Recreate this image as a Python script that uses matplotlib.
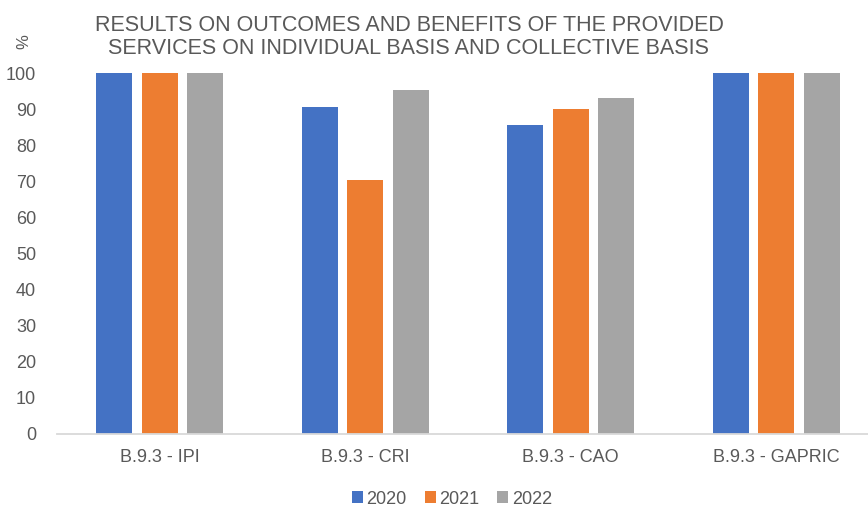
import numpy as np
import matplotlib
matplotlib.use("Agg")
from matplotlib import pyplot as plt

# data
categories = ["B.9.3 - IPI", "B.9.3 - CRI", "B.9.3 - CAO", "B.9.3 - GAPRIC"]
years = ["2020", "2021", "2022"]
vals_2020 = [100, 90.6, 85.5, 100]
vals_2021 = [100, 70.4, 90.0, 100]
vals_2022 = [100, 95.2, 93.0, 100]

colors = ["#4472C4", "#ED7D31", "#A5A5A5"]
txt_col = "#595959"

plt.rcParams['font.family'] = ['Liberation Sans', 'DejaVu Sans']

fig = plt.figure(figsize=(8.68, 5.09), dpi=100)
ax = fig.add_axes([57/868, 75/509, 822/868, 361/509])

x = np.arange(len(categories))
w = 0.175
step = 0.221
for i, (vals, yr) in enumerate(zip([vals_2020, vals_2021, vals_2022], years)):
    ax.bar(x + (i - 1)*step, vals, width=w, color=colors[i], label=yr)

ax.set_xlim(-0.5, len(categories) - 0.5)
ax.set_ylim(0, 100)
ax.set_yticks(np.arange(0, 101, 10))
ax.set_xticks(x)
ax.set_xticklabels(categories)
ax.tick_params(axis='both', length=0, labelsize=13, colors=txt_col)
ax.tick_params(axis='x', pad=11)
ax.tick_params(axis='y', pad=15)

for s in ['top', 'right', 'left']:
    ax.spines[s].set_visible(False)
ax.spines['bottom'].set_color('#D9D9D9')
ax.spines['bottom'].set_linewidth(1.3)

fig.text(409/868, 1 - 37/509,
         "RESULTS ON OUTCOMES AND BENEFITS OF THE PROVIDED\nSERVICES ON INDIVIDUAL BASIS AND COLLECTIVE BASIS",
         ha='center', va='center', fontsize=15.5, color=txt_col, linespacing=1.1)
fig.text(24/868, 1 - 42/509, "%", rotation=90, ha='center', va='center',
         fontsize=12, color=txt_col)

fig.legend(loc='center', bbox_to_anchor=(452/868, 1 - 499/509), ncol=3,
           frameon=False, fontsize=13, labelcolor=txt_col,
           handlelength=0.6, handleheight=0.6, handletextpad=0.2,
           columnspacing=1.0)

plt.savefig("out.png", dpi=100)
